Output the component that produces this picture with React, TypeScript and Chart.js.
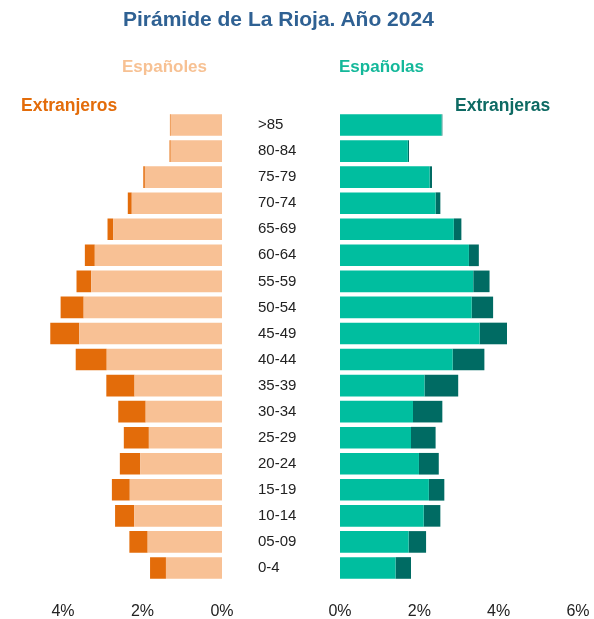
import React, { useEffect, useRef } from "react";
import { Chart, registerables } from "chart.js";

Chart.register(...registerables);

const categories = [">85", "80-84", "75-79", "70-74", "65-69", "60-64", "55-59", "50-54", "45-49", "40-44", "35-39", "30-34", "25-29", "20-24", "15-19", "10-14", "05-09", "0-4"];
const espanoles = [1.29, 1.29, 1.94, 2.27, 2.74, 3.2, 3.29, 3.48, 3.59, 2.9, 2.2, 1.92, 1.84, 2.06, 2.32, 2.21, 1.87, 1.41];
const extranjeros = [0.02, 0.03, 0.04, 0.1, 0.14, 0.25, 0.37, 0.58, 0.73, 0.78, 0.71, 0.69, 0.63, 0.51, 0.45, 0.48, 0.46, 0.4];
const espanolas = [2.56, 1.71, 2.26, 2.41, 2.87, 3.25, 3.36, 3.32, 3.52, 2.84, 2.13, 1.84, 1.79, 1.99, 2.24, 2.11, 1.73, 1.4];
const extranjeras = [0.02, 0.03, 0.06, 0.12, 0.19, 0.25, 0.41, 0.54, 0.69, 0.8, 0.85, 0.74, 0.62, 0.5, 0.39, 0.42, 0.44, 0.39];

const FONT = "'Liberation Sans', Arial, sans-serif";
const C_ESP_M = "#F8C195";
const C_EXT_M = "#E36C0A";
const C_ESP_F = "#00BE9F";
const C_EXT_F = "#006B63";

function makeConfig(side: "left" | "right", a: number[], b: number[], ca: string, cb: string, la: string, lb: string): any {
  const left = side === "left";
  return {
    type: "bar",
    data: {
      labels: categories,
      datasets: [
        { label: la, data: a, backgroundColor: ca, barPercentage: 0.83, categoryPercentage: 1 },
        { label: lb, data: b, backgroundColor: cb, barPercentage: 0.83, categoryPercentage: 1 },
      ],
    },
    options: {
      indexAxis: "y",
      animation: false,
      responsive: false,
      maintainAspectRatio: false,
      layout: {
        padding: left
          ? { left: 23.5, right: 20, top: 112, bottom: 0 }
          : { left: 0, right: 16, top: 112, bottom: 0 },
      },
      plugins: { legend: { display: false }, tooltip: { enabled: false }, title: { display: false } },
      scales: {
        x: {
          stacked: true,
          reverse: left,
          min: 0,
          max: 6,
          grid: { display: false, drawTicks: true, tickLength: 18 },
          border: { display: false },
          ticks: {
            stepSize: 2,
            padding: 3,
            color: "#222",
            font: { family: FONT, size: 16 },
            callback: (v: any) => v + "%",
          },
          afterFit: (s: any) => {
            s.height = 38;
          },
        },
        y: {
          stacked: true,
          display: !left,
          position: "left",
          grid: { display: false, drawTicks: false },
          border: { display: false },
          ticks: {
            crossAlign: "far",
            padding: 0,
            color: "#222",
            font: { family: FONT, size: 15 },
          },
          afterFit: (s: any) => {
            if (!left) s.width = 82;
          },
        },
      },
    },
  };
}

export default function App() {
  const leftRef = useRef<HTMLCanvasElement>(null);
  const rightRef = useRef<HTMLCanvasElement>(null);

  useEffect(() => {
    const c1 = new Chart(leftRef.current!, makeConfig("left", espanoles, extranjeros, C_ESP_M, C_EXT_M, "Españoles", "Extranjeros"));
    const c2 = new Chart(rightRef.current!, makeConfig("right", espanolas, extranjeras, C_ESP_F, C_EXT_F, "Españolas", "Extranjeras"));
    return () => {
      c1.destroy();
      c2.destroy();
    };
  }, []);

  const txt = (s: string, left: number, top: number, size: number, color: string): any => (
    <div
      style={{
        position: "absolute",
        left,
        top,
        fontFamily: FONT,
        fontWeight: "bold",
        fontSize: size,
        lineHeight: 1,
        color,
        whiteSpace: "nowrap",
      }}
    >
      {s}
    </div>
  );

  return (
    <div style={{ position: "absolute", left: 0, top: 0, width: 594, height: 619, overflow: "hidden", background: "#fff" }}>
      <canvas ref={leftRef} width={282} height={619} style={{ position: "absolute", left: -40, top: 0, width: 282, height: 619 }} />
      <canvas ref={rightRef} width={336} height={619} style={{ position: "absolute", left: 258, top: 0, width: 336, height: 619 }} />
      {txt("Pirámide de La Rioja. Año 2024", 123, 7.5, 21, "#2F6193")}
      {txt("Españoles", 122, 57.6, 17, "#F7C193")}
      {txt("Españolas", 339, 57.6, 17, "#14B89A")}
      {txt("Extranjeros", 21, 97.2, 17.5, C_EXT_M)}
      {txt("Extranjeras", 455, 97.2, 17.5, "#0E6A63")}
    </div>
  );
}
